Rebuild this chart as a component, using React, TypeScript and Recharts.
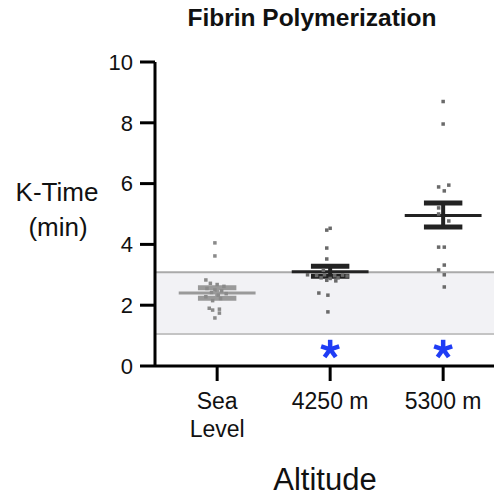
import React from 'react';
import {
  ComposedChart,
  Scatter,
  XAxis,
  YAxis,
  ReferenceArea,
  ReferenceLine,
} from 'recharts';

// ---- data ----
const categories = ['Sea Level', '4250 m', '5300 m'];
const categoryX = [1, 2, 3];
const yTicks = [0, 2, 4, 6, 8, 10];

const means = [2.4, 3.1, 4.95];
const semHigh = [2.57, 3.28, 5.36];
const semLow = [2.23, 2.95, 4.57];

const refRangeLow = 1.05;
const refRangeHigh = 3.08;

const seaValues = [4.05, 3.62, 2.83, 2.72, 2.68, 2.62, 2.55, 2.5, 2.47, 2.42, 2.38, 2.33, 2.28, 2.22, 2.15, 1.9, 1.87, 1.84, 1.74, 1.58];
const seaJitter = [-0.02, -0.02, -0.1, -0.06, 0.0, 0.06, -0.09, -0.02, 0.04, -0.05, 0.08, 0.01, -0.1, 0.03, -0.04, -0.07, 0.02, -0.04, 0.02, -0.02];

const m4250Values = [4.53, 4.47, 3.88, 3.52, 3.15, 3.0, 2.98, 3.0, 2.97, 2.99, 2.96, 2.9, 2.88, 2.9, 2.82, 2.8, 2.4, 2.33, 1.78];
const m4250Jitter = [0.0, -0.03, -0.03, -0.03, -0.06, -0.2, -0.12, -0.05, 0.04, 0.11, 0.15, -0.08, 0.0, 0.07, -0.03, 0.05, -0.1, -0.02, -0.02];

const m5300Values = [8.7, 7.96, 5.95, 5.89, 5.76, 5.2, 5.0, 4.77, 3.91, 3.91, 3.32, 3.16, 3.0, 2.6];
const m5300Jitter = [0.0, 0.0, 0.05, -0.04, 0.01, -0.04, -0.04, 0.05, -0.04, 0.01, 0.01, -0.04, 0.01, 0.01];

const significant = [false, true, true];
const asteriskY = 0.55;

// ---- styles ----
const FONT = '"Liberation Sans", Arial, Helvetica, sans-serif';
const groupColor = ['#9a9a9a', '#222222', '#222222'];
const dotColor = ['#8a8a8a', '#6a6a6a', '#6a6a6a'];
const meanHalf = 0.34;
const capHalf = 0.17;

const build = (vals: number[], jit: number[], cx: number) =>
  vals.map((v, i) => ({ x: cx + jit[i], y: v }));

const groups = [
  build(seaValues, seaJitter, categoryX[0]),
  build(m4250Values, m4250Jitter, categoryX[1]),
  build(m5300Values, m5300Jitter, categoryX[2]),
];

const asteriskData = categoryX
  .map((x, i) => ({ x, y: asteriskY, show: significant[i] }))
  .filter((d) => d.show);

const makeDot = (color: string) => (props: any) => {
  const { cx, cy } = props;
  if (cx == null || cy == null) return <g />;
  return <rect x={cx - 1.75} y={cy - 1.75} width={3.5} height={3.5} fill={color} />;
};

const Asterisk = (props: any) => {
  const { cx, cy } = props;
  if (cx == null || cy == null) return <g />;
  const arms = [-90, -18, 54, 126, 198];
  const r = 9.5;
  return (
    <g>
      {arms.map((a) => {
        const rad = (a * Math.PI) / 180;
        return (
          <line
            key={a}
            x1={cx}
            y1={cy}
            x2={cx + r * Math.cos(rad)}
            y2={cy + r * Math.sin(rad)}
            stroke="#1f3cf5"
            strokeWidth={4.5}
          />
        );
      })}
    </g>
  );
};

const XTick = (props: any) => {
  const { x, y, payload } = props;
  const idx = categoryX.indexOf(payload.value);
  const label = idx >= 0 ? categories[idx] : '';
  const lines = label === 'Sea Level' ? ['Sea', 'Level'] : [label];
  return (
    <text x={x} y={y} textAnchor="middle" fontFamily={FONT} fontSize={23} fill="#111">
      {lines.map((l, i) => (
        <tspan key={i} x={x} dy={i === 0 ? 28 : 28}>
          {l}
        </tspan>
      ))}
    </text>
  );
};

export default function App() {
  return (
    <div style={{ position: 'absolute', left: 0, top: 0, width: 494, height: 497, background: '#fff' }}>
      <ComposedChart
        width={494}
        height={497}
        margin={{ top: 62, right: 0, bottom: 0, left: 0 }}
      >
        <XAxis
          type="number"
          dataKey="x"
          domain={[0.45, 3.45]}
          ticks={categoryX}
          allowDataOverflow
          height={131}
          tickSize={15}
          tickMargin={0}
          axisLine={{ stroke: '#000', strokeWidth: 3 }}
          tickLine={{ stroke: '#000', strokeWidth: 3 }}
          tick={<XTick />}
        />
        <YAxis
          type="number"
          dataKey="y"
          domain={[0, 10]}
          ticks={yTicks}
          width={155}
          tickSize={15}
          tickMargin={7}
          axisLine={{ stroke: '#000', strokeWidth: 3 }}
          tickLine={{ stroke: '#000', strokeWidth: 3 }}
          tick={{ fontFamily: FONT, fontSize: 22, fill: '#111' }}
        />
        <ReferenceArea y1={refRangeLow} y2={refRangeHigh} fill="#f2f2f5" fillOpacity={1} stroke="none" />
        <ReferenceLine y={refRangeHigh} stroke="#aaaaaa" strokeWidth={2} />
        <ReferenceLine y={refRangeLow} stroke="#c4c4c4" strokeWidth={2} />

        {groups.map((g, i) => (
          <Scatter
            key={'pts' + i}
            data={g}
            isAnimationActive={false}
            shape={makeDot(dotColor[i])}
          />
        ))}

        {categoryX.map((cx, i) => (
          <ReferenceLine
            key={'mean' + i}
            segment={[
              { x: cx - meanHalf, y: means[i] },
              { x: cx + meanHalf, y: means[i] },
            ]}
            stroke={groupColor[i]}
            strokeWidth={3}
          />
        ))}
        {categoryX.map((cx, i) => (
          <ReferenceLine
            key={'vert' + i}
            segment={[
              { x: cx, y: semLow[i] },
              { x: cx, y: semHigh[i] },
            ]}
            stroke={groupColor[i]}
            strokeWidth={4}
          />
        ))}
        {categoryX.map((cx, i) => (
          <ReferenceLine
            key={'capH' + i}
            segment={[
              { x: cx - capHalf, y: semHigh[i] },
              { x: cx + capHalf, y: semHigh[i] },
            ]}
            stroke={groupColor[i]}
            strokeWidth={5}
          />
        ))}
        {categoryX.map((cx, i) => (
          <ReferenceLine
            key={'capL' + i}
            segment={[
              { x: cx - capHalf, y: semLow[i] },
              { x: cx + capHalf, y: semLow[i] },
            ]}
            stroke={groupColor[i]}
            strokeWidth={5}
          />
        ))}

        <Scatter data={asteriskData} isAnimationActive={false} shape={<Asterisk />} />
      </ComposedChart>

      <svg
        width={494}
        height={497}
        style={{ position: 'absolute', left: 0, top: 0, pointerEvents: 'none' }}
      >
        <text x={312} y={26} textAnchor="middle" fontFamily={FONT} fontWeight="bold" fontSize={24.5} fill="#111">
          Fibrin Polymerization
        </text>
        <text x={57} y={201} textAnchor="middle" fontFamily={FONT} fontSize={26} fill="#111">
          K-Time
        </text>
        <text x={58} y={236} textAnchor="middle" fontFamily={FONT} fontSize={26} fill="#111">
          (min)
        </text>
        <text x={325} y={490} textAnchor="middle" fontFamily={FONT} fontSize={31} fill="#111">
          Altitude
        </text>
      </svg>
    </div>
  );
}
